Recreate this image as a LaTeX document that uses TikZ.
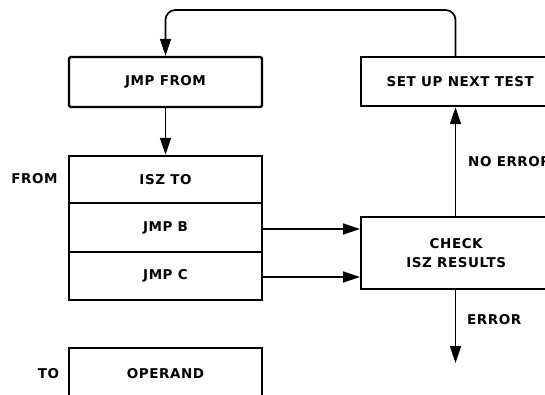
\documentclass[tikz,border=0pt]{standalone}
\usepackage{fontspec}
\setmainfont{DejaVu Sans}
\newfontfamily\diafont[LetterSpace=4]{DejaVu Sans}
\usetikzlibrary{arrows.meta}
\begin{document}
\begin{tikzpicture}[x=1pt,y=-1pt,
  box/.style={draw, line width=2.4pt, minimum width=193pt, minimum height=48pt, inner sep=0pt, font=\diafont\fontsize{13.5}{19}\bfseries\selectfont},
  lbl/.style={font=\diafont\fontsize{13.5}{19}\bfseries\selectfont, inner sep=0pt},
  conn/.style={line width=1.7pt, -{Triangle[length=17pt,width=11pt]}}]
\useasboundingbox (0,0) rectangle (545,395);
\clip (0,0) rectangle (545,395);
% left column
\node[box, rounded corners=1.5pt, minimum height=50pt] (jmpfrom) at (165.5,82) {JMP FROM};
\node[box, minimum height=47pt] (iszto) at (165.5,179.5) {ISZ TO};
\node[box, minimum height=49pt] (jmpb) at (165.5,227.5) {JMP B};
\node[box, minimum height=48pt] (jmpc) at (165.5,276) {JMP C};
\node[box, minimum height=52pt] (operand) at (165.5,374) {OPERAND};
\node[lbl] (from) at (34.5,179) {FROM};
\node[lbl] (to) at (48.5,374) {TO};
% right column
\node[box, minimum width=240pt, minimum height=49pt, anchor=west,
  label={[lbl, xshift=-21pt]center:SET UP NEXT TEST}] (setup) at (360,81.5) {};
\node[box, minimum width=240pt, minimum height=72pt, anchor=west,
  label={[lbl, xshift=-25pt, align=center]center:CHECK\\ISZ RESULTS}] (check) at (360,253) {};
\node[lbl, anchor=west] (noerr) at (468,162) {NO ERROR};
\node[lbl, anchor=west] (err) at (467,320) {ERROR};
\coordinate (vx) at (455.5,0);
\coordinate (top) at (0,10);
\coordinate (errend) at (455.5,363);
% connectors
\draw[conn] (jmpfrom) -- (iszto);
\draw[conn] (jmpb.east |- 0,229) -- (check.west |- 0,229);
\draw[conn] (jmpc.east |- 0,277) -- (check.west |- 0,277);
\draw[conn] (check.north -| vx) -- (setup.south -| vx);
\draw[conn] (check.south -| vx) -- (errend);
\draw[conn, rounded corners=10pt] (setup.north -| vx) |- (top -| jmpfrom.north) -- (jmpfrom.north);
\end{tikzpicture}
\end{document}
